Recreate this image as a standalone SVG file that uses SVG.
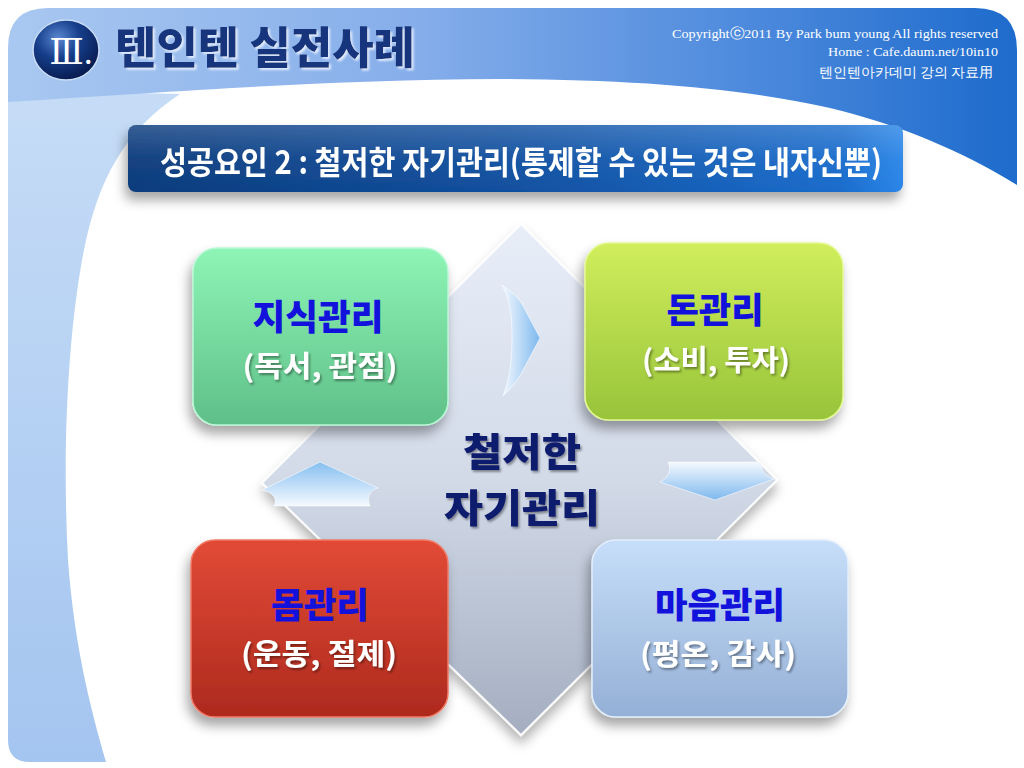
<svg xmlns="http://www.w3.org/2000/svg" width="1024" height="768" viewBox="0 0 1024 768">
  <defs>
    <style>
      .kr { font-family: "Noto Sans CJK KR", "Noto Sans", sans-serif; }
      .lbl { font-family: "Noto Sans CJK KR", sans-serif; font-weight: 900; fill: #1212dc; text-anchor: middle; }
      .sub { font-family: "Noto Sans CJK KR", sans-serif; font-weight: 700; fill: #ffffff; text-anchor: middle; }
      .copy { font-family: "Liberation Serif", "DejaVu Serif", serif; fill: #ffffff; text-anchor: end; }
      .arrow { stroke: #ffffff; stroke-width: 0.8; stroke-opacity: 0.7; }
      .core { font-family: "Noto Sans CJK KR", sans-serif; font-weight: 900; fill: #0d1a6c; text-anchor: middle; }
    </style>
    <linearGradient id="gHeader" x1="0" y1="0" x2="1" y2="0">
      <stop offset="0" stop-color="#a9c8f1"/>
      <stop offset="0.4" stop-color="#86aeea"/>
      <stop offset="0.75" stop-color="#4a88dc"/>
      <stop offset="1" stop-color="#1d6bcc"/>
    </linearGradient>
    <linearGradient id="gStrip" x1="0" y1="0" x2="0" y2="1">
      <stop offset="0" stop-color="#c6dcf6"/>
      <stop offset="1" stop-color="#a4c5f0"/>
    </linearGradient>
    <radialGradient id="gCircle" cx="0.38" cy="0.3" r="0.75">
      <stop offset="0" stop-color="#5a86d0"/>
      <stop offset="0.45" stop-color="#163e8a"/>
      <stop offset="1" stop-color="#06184a"/>
    </radialGradient>
    <linearGradient id="gBanner" x1="0" y1="0" x2="1" y2="0">
      <stop offset="0" stop-color="#0b3b7c"/>
      <stop offset="0.5" stop-color="#1150a0"/>
      <stop offset="0.92" stop-color="#1a6ccc"/>
      <stop offset="1" stop-color="#2a86e8"/>
    </linearGradient>
    <linearGradient id="gGloss" x1="0" y1="0" x2="0" y2="1">
      <stop offset="0" stop-color="#ffffff" stop-opacity="0.18"/>
      <stop offset="0.5" stop-color="#ffffff" stop-opacity="0.04"/>
      <stop offset="1" stop-color="#ffffff" stop-opacity="0"/>
    </linearGradient>
    <linearGradient id="gDiamond" x1="0" y1="0" x2="0" y2="1">
      <stop offset="0" stop-color="#e8eef8"/>
      <stop offset="0.5" stop-color="#d2dae8"/>
      <stop offset="1" stop-color="#a4aec0"/>
    </linearGradient>
    <linearGradient id="gGreen" x1="0" y1="0" x2="0" y2="1">
      <stop offset="0" stop-color="#8ef5b6"/>
      <stop offset="1" stop-color="#5fbf88"/>
    </linearGradient>
    <linearGradient id="gLime" x1="0" y1="0" x2="0" y2="1">
      <stop offset="0" stop-color="#d0ee5c"/>
      <stop offset="1" stop-color="#98c43a"/>
    </linearGradient>
    <linearGradient id="gRed" x1="0" y1="0" x2="0" y2="1">
      <stop offset="0" stop-color="#e24a36"/>
      <stop offset="1" stop-color="#ae2a1e"/>
    </linearGradient>
    <linearGradient id="gBlue" x1="0" y1="0" x2="0" y2="1">
      <stop offset="0" stop-color="#c6def9"/>
      <stop offset="1" stop-color="#95b0d6"/>
    </linearGradient>
    <linearGradient id="gArrowH" x1="0" y1="0" x2="1" y2="0">
      <stop offset="0" stop-color="#f4f9ff"/>
      <stop offset="1" stop-color="#7eb8ee"/>
    </linearGradient>
    <linearGradient id="gArrowUp" x1="0" y1="0" x2="0" y2="1">
      <stop offset="0" stop-color="#86bff0"/>
      <stop offset="1" stop-color="#f4f9ff"/>
    </linearGradient>
    <linearGradient id="gArrowDown" x1="0" y1="0" x2="0" y2="1">
      <stop offset="0" stop-color="#f4f9ff"/>
      <stop offset="1" stop-color="#7eb8ee"/>
    </linearGradient>
    <filter id="shadow" x="-20%" y="-20%" width="140%" height="150%">
      <feDropShadow dx="-3" dy="8" stdDeviation="6" flood-color="#000000" flood-opacity="0.35"/>
    </filter>
    <filter id="dshadow" x="-10%" y="-10%" width="120%" height="125%">
      <feDropShadow dx="0" dy="8" stdDeviation="6" flood-color="#000000" flood-opacity="0.3"/>
    </filter>
    <filter id="tshadow" x="-10%" y="-20%" width="120%" height="150%">
      <feDropShadow dx="1.5" dy="2" stdDeviation="1.2" flood-color="#000000" flood-opacity="0.4"/>
    </filter>
    <filter id="titleGlow" x="-10%" y="-20%" width="120%" height="150%">
      <feDropShadow dx="2" dy="2" stdDeviation="1" flood-color="#e8f0ff" flood-opacity="0.9"/>
    </filter>
  </defs>

  <rect width="1024" height="768" fill="#ffffff"/>

  <g id="background">
    <path d="M8,90 L8,740 Q8,762 30,762 L106,762 C88,700 74,640 68,560 C62,450 68,330 84,250 C98,180 125,130 180,94 Z" fill="url(#gStrip)"/>
    <path d="M8,48 Q8,8 48,8 L975,8 Q1017,8 1017,50 L1017,185 C960,150 900,125 830,108 C740,88 640,80 500,79 C330,80 200,90 8,102 Z" fill="url(#gHeader)"/>
  </g>

  <g id="header">
    <ellipse cx="66" cy="50" rx="33" ry="30" fill="url(#gCircle)" stroke="#c8dcf4" stroke-width="1.5"/>
    <text x="71" y="64" font-family="Liberation Serif, DejaVu Serif, serif" font-size="36" fill="#ffffff" text-anchor="middle">Ⅲ.</text>
    <text x="115" y="64" class="kr" font-size="44" font-weight="900" fill="#15347c" textLength="300" lengthAdjust="spacingAndGlyphs" filter="url(#titleGlow)">텐인텐 실전사례</text>
    <text x="998" y="38" class="copy" font-size="13.5" textLength="326" lengthAdjust="spacingAndGlyphs">Copyrightⓒ2011 By Park bum young All rights reserved</text>
    <text x="998" y="56" class="copy" font-size="13.5" textLength="170" lengthAdjust="spacingAndGlyphs">Home : Cafe.daum.net/10in10</text>
    <text x="993" y="77" class="copy" font-family="Noto Sans CJK KR, sans-serif" font-size="13.5" textLength="174" lengthAdjust="spacing">텐인텐아카데미 강의 자료用</text>
  </g>

  <g id="banner" filter="url(#shadow)">
    <rect x="128" y="125" width="775" height="67" rx="8" fill="url(#gBanner)"/>
    <rect x="128" y="125" width="775" height="67" rx="8" fill="url(#gGloss)"/>
    <text x="160" y="174" class="kr" font-size="32" font-weight="700" fill="#ffffff" textLength="722" lengthAdjust="spacingAndGlyphs">성공요인 2 : 철저한 자기관리(통제할 수 있는 것은 내자신뿐)</text>
  </g>

  <g id="center-diamond">
    <path d="M521,224 L777,480 L521,735 L262,483 Z" fill="url(#gDiamond)" stroke="#ffffff" stroke-width="2" stroke-opacity="0.9" filter="url(#dshadow)"/>
  </g>

  <g id="connectors">
    <path class="arrow" d="M502,285 C512,292 518,298 522,304 L540,338 L522,372 C518,380 511,388 503,396 C509,380 512,364 512,338 C512,312 509,298 502,285 Z" fill="url(#gArrowH)"/>
    <path class="arrow" d="M660,482 C668,478 672,470 668,462 L762,462 C760,470 764,476 774,479 L715,500 Z" fill="url(#gArrowDown)"/>
    <path class="arrow" d="M262,490 L320,462 L378,488 C370,490 366,497 370,506 L274,506 C278,498 272,492 262,490 Z" fill="url(#gArrowUp)"/>
  </g>

  <g id="center-label" filter="url(#tshadow)">
    <text x="522" y="466" class="core" font-size="38.5" textLength="118" lengthAdjust="spacingAndGlyphs">철저한</text>
    <text x="522" y="522" class="core" font-size="38.5" textLength="156" lengthAdjust="spacingAndGlyphs">자기관리</text>
  </g>

  <g id="node-knowledge">
    <rect x="193" y="248" width="255" height="177" rx="24" fill="url(#gGreen)" stroke="#b8f8d4" stroke-width="1.5" filter="url(#shadow)"/>
    <text x="318" y="330" class="lbl" font-size="35" textLength="131" lengthAdjust="spacingAndGlyphs">지식관리</text>
    <text x="320" y="377" class="sub" font-size="29" textLength="155" lengthAdjust="spacingAndGlyphs" filter="url(#tshadow)">(독서, 관점)</text>
  </g>

  <g id="node-money">
    <rect x="585" y="243" width="258" height="177" rx="24" fill="url(#gLime)" stroke="#e4f890" stroke-width="1.5" filter="url(#shadow)"/>
    <text x="715" y="323" class="lbl" font-size="35" textLength="97" lengthAdjust="spacingAndGlyphs">돈관리</text>
    <text x="716" y="371" class="sub" font-size="29" textLength="148" lengthAdjust="spacingAndGlyphs" filter="url(#tshadow)">(소비, 투자)</text>
  </g>

  <g id="node-body">
    <rect x="191" y="540" width="257" height="177" rx="24" fill="url(#gRed)" stroke="#f07a66" stroke-width="1.5" filter="url(#shadow)"/>
    <text x="320" y="618" class="lbl" font-size="35" textLength="98" lengthAdjust="spacingAndGlyphs">몸관리</text>
    <text x="319" y="665" class="sub" font-size="29" textLength="156" lengthAdjust="spacingAndGlyphs" filter="url(#tshadow)">(운동, 절제)</text>
  </g>

  <g id="node-mind">
    <rect x="592" y="540" width="256" height="177" rx="24" fill="url(#gBlue)" stroke="#e2eefc" stroke-width="1.5" filter="url(#shadow)"/>
    <text x="720" y="618" class="lbl" font-size="35" textLength="130" lengthAdjust="spacingAndGlyphs">마음관리</text>
    <text x="718" y="665" class="sub" font-size="29" textLength="156" lengthAdjust="spacingAndGlyphs" filter="url(#tshadow)">(평온, 감사)</text>
  </g>
</svg>
